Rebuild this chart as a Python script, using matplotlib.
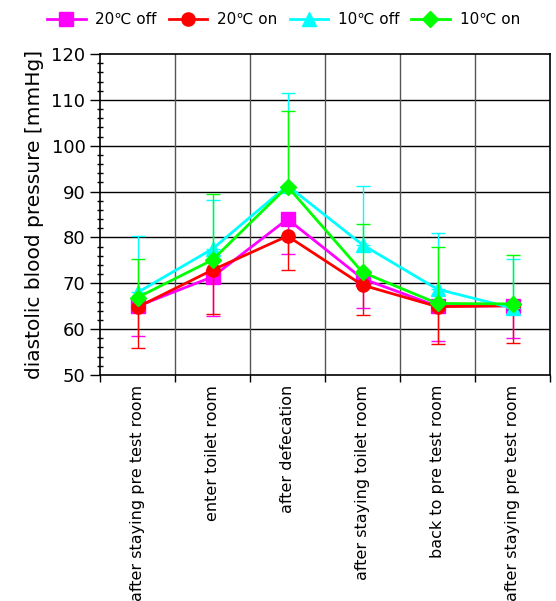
import matplotlib
matplotlib.use("Agg")
import matplotlib.pyplot as plt
from matplotlib.lines import Line2D
from matplotlib.ticker import MultipleLocator, FixedLocator, NullFormatter
import numpy as np

plt.rcParams['font.family'] = ['DejaVu Sans', 'Noto Sans CJK JP']

categories = ["after staying pre test room", "enter toilet room", "after defecation",
              "after staying toilet room", "back to pre test room", "after staying pre test room"]

off20 = [65.0, 71.4, 84.0, 71.0, 65.0, 65.1]
on20 = [64.8, 72.9, 80.3, 69.6, 64.9, 65.1]
off10 = [68.0, 77.5, 91.3, 78.4, 68.7, 64.6]
on10 = [66.9, 75.1, 91.1, 72.4, 65.6, 65.5]

# lower error bar ends (20°C series) and upper error bar ends (10°C series)
off20_low = [58.5, 62.9, 76.3, 64.6, 57.4, 58.1]
on20_low = [55.8, 63.4, 72.8, 63.1, 56.8, 57.0]
off10_high = [80.3, 88.2, 111.4, 91.2, 80.9, 75.3]
on10_high = [75.2, 89.4, 107.6, 82.9, 78.0, 76.1]

series = [
    ("20\u2103 off", off20, off20_low, None, "#FF00FF", "s"),
    ("20\u2103 on", on20, on20_low, None, "#FF0000", "o"),
    ("10\u2103 off", off10, None, off10_high, "#00FFFF", "^"),
    ("10\u2103 on", on10, None, on10_high, "#00FF00", "D"),
]

fig = plt.figure(figsize=(5.56, 6.01), dpi=100)
ax = fig.add_axes([100 / 556, 1 - 375 / 601, 450 / 556, 321 / 601])

x = np.arange(len(categories))
handles = []
for i, (label, vals, low, high, color, marker) in enumerate(series):
    vals = np.array(vals)
    lower = vals - np.array(low) if low is not None else np.zeros_like(vals)
    upper = np.array(high) - vals if high is not None else np.zeros_like(vals)
    ms = 8 if marker == "D" else 9.5
    ax.errorbar(x, vals, yerr=[lower, upper], color=color, marker=marker,
                markersize=ms, linewidth=2, elinewidth=1, capsize=5,
                capthick=1, zorder=3 + i)
    handles.append(Line2D([], [], color=color, marker=marker, markersize=ms,
                          linewidth=2, label=label))

ax.set_xlim(-0.5, len(categories) - 0.5)
ax.set_ylim(50, 120)
ax.yaxis.set_major_locator(MultipleLocator(10))
ax.yaxis.set_minor_locator(MultipleLocator(2))

# category boundaries carry the ticks and vertical grid
ax.xaxis.set_major_locator(FixedLocator(np.arange(-0.5, len(categories), 1.0)))
ax.xaxis.set_major_formatter(NullFormatter())
for xi, name in zip(x, categories):
    ax.text(xi, 47.8, name, rotation=90, ha="center", va="top", fontsize=11.5,
            transform=ax.transData)

for yv in range(60, 120, 10):
    ax.axhline(yv, color="black", linewidth=1, zorder=1)
for xb in np.arange(0.5, len(categories) - 0.5, 1.0):
    ax.axvline(xb, color="#555555", linewidth=1, zorder=1)

ax.tick_params(axis="y", which="major", direction="out", length=7, width=1, labelsize=13)
ax.tick_params(axis="y", which="minor", direction="inout", length=5, width=1)
ax.tick_params(axis="x", which="major", direction="out", length=5, width=1)
for sp in ax.spines.values():
    sp.set_linewidth(1.2)

ax.set_ylabel("diastolic blood pressure [mmHg]", fontsize=14.5, labelpad=5)

fig.legend(handles=handles, loc="center", bbox_to_anchor=(0.51, 0.967), ncol=4,
           frameon=False, fontsize=11, handlelength=2.5, columnspacing=0.8,
           handletextpad=0.65)

fig.savefig("out.png", dpi=100)
